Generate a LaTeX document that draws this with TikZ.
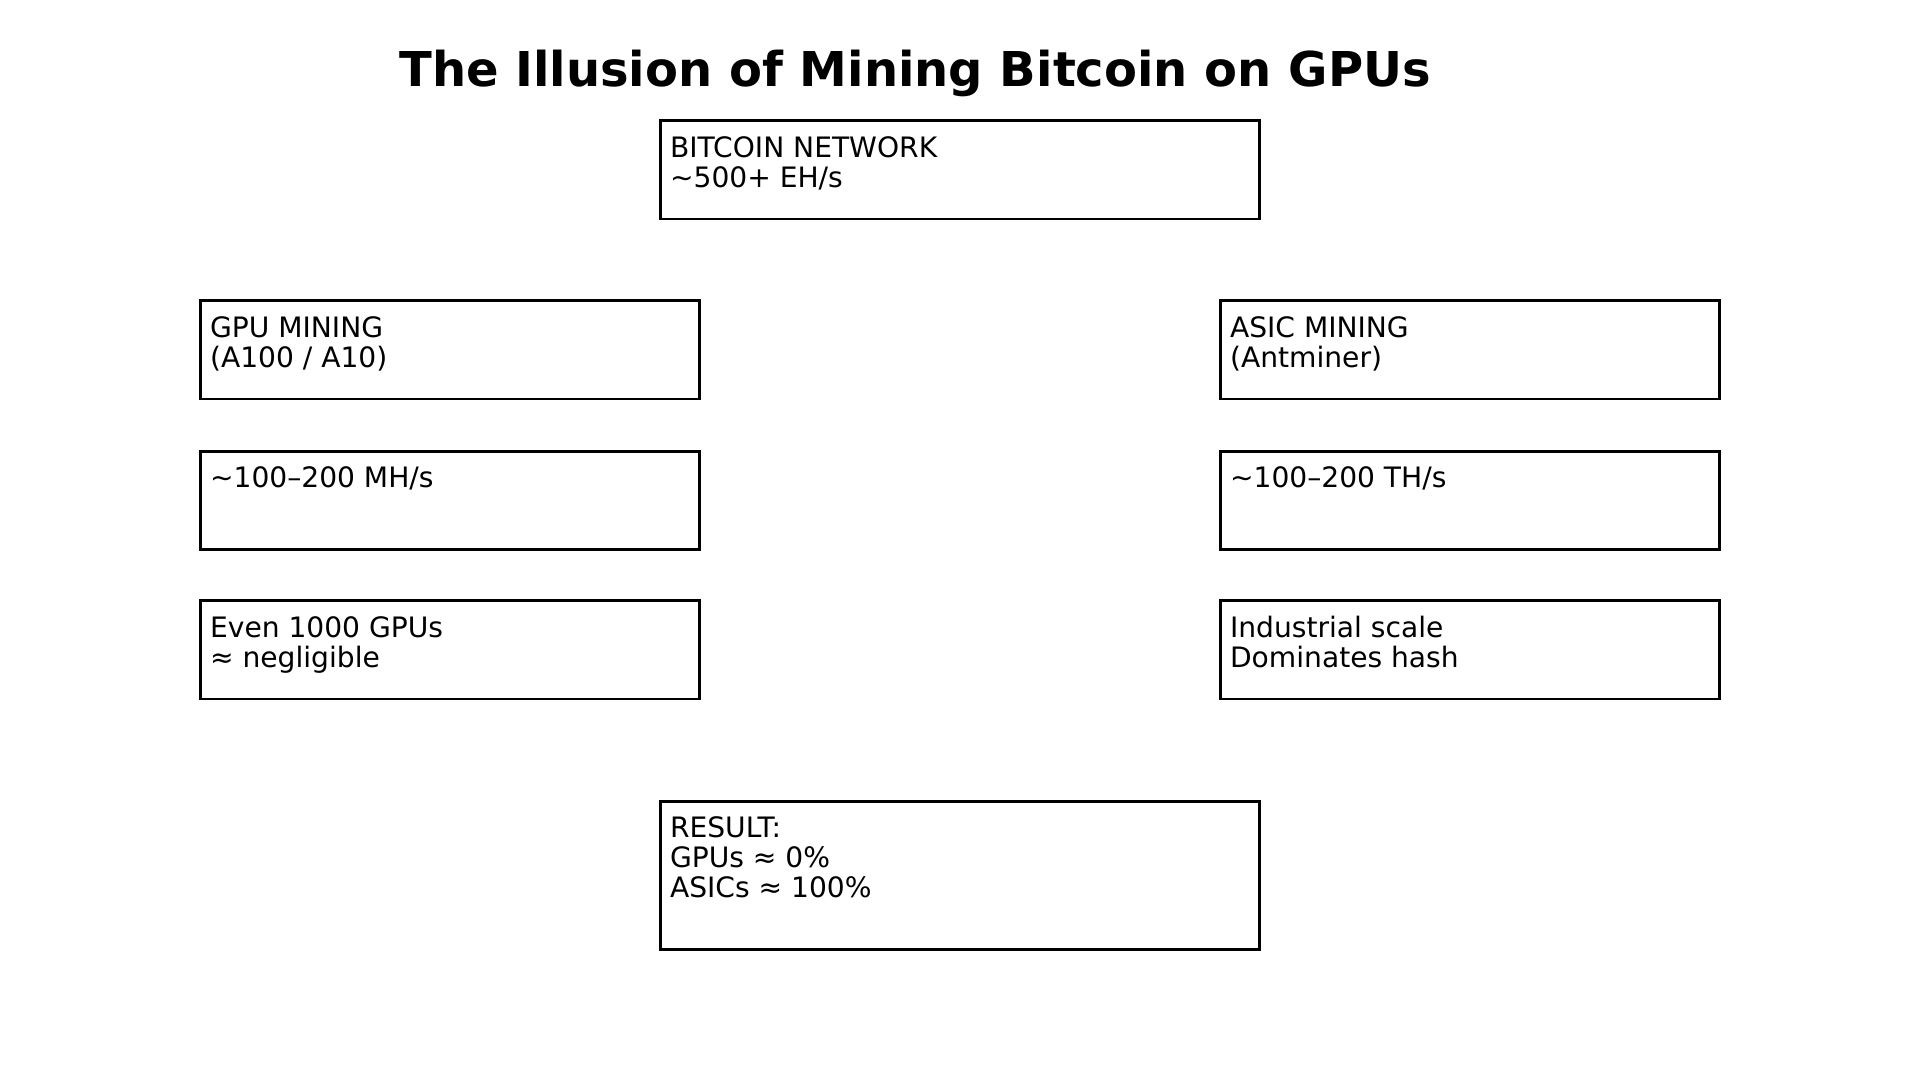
\documentclass[tikz,border=0pt]{standalone}
\usepackage{fontspec}
\setmainfont{DejaVu Sans}
\usepackage{tikz}
\usetikzlibrary{calc}
\usetikzlibrary{positioning}

\begin{document}
\begin{tikzpicture}[
    x=0.01cm, y=0.01cm,
    % Define the style for the boxes
    panel/.style={draw, line width=0.85pt, rectangle, inner sep=0pt},
    % Define the style for the text inside the boxes (top-left aligned)
    paneltext/.style={anchor=north west, inner sep=0pt, align=left,
        font=\fontsize{8pt}{8.6pt}\selectfont,
        execute at begin node=\strut},
    titletext/.style={anchor=base, inner sep=0pt,
        font=\fontsize{13.65pt}{16pt}\selectfont\bfseries}
]

    % --- Configuration ---
    \def\colw{4.98cm} % Width of the side boxes
    \def\boxh{0.98cm} % Height of the boxes

    \useasboundingbox (0,0) rectangle (1920,1080);

    % --- Title ---
    \node[titletext] (title) at (915,993) {The Illusion of Mining Bitcoin on GPUs};

    % --- Network Box ---
    \node[panel, minimum width=5.98cm, minimum height=\boxh] (net) at (960,910) {};
    \node[paneltext] (nettext) at ($(net.north west)+(10,-16)$) {BITCOIN NETWORK\\\textasciitilde500+ EH/s};

    % --- Left and Right Columns ---
    \foreach \y [count=\i] in {730, 579.5, 430} {
        \node[panel, minimum width=\colw, minimum height=\boxh] (gpu\i) at (450,\y) {};
        \node[panel, minimum width=\colw, minimum height=\boxh] (asic\i) at (1470,\y) {};
    }

    \node[paneltext] (gputext1) at ($(gpu1.north west)+(10,-16)$) {GPU MINING\\(A100 / A10)};
    \node[paneltext] (gputext2) at ($(gpu2.north west)+(10,-16)$) {\textasciitilde100–200 MH/s};
    \node[paneltext] (gputext3) at ($(gpu3.north west)+(10,-16)$) {Even 1000 GPUs\\≈ negligible};

    \node[paneltext] (asictext1) at ($(asic1.north west)+(10,-16)$) {ASIC MINING\\(Antminer)};
    \node[paneltext] (asictext2) at ($(asic2.north west)+(10,-16)$) {\textasciitilde100–200 TH/s};
    \node[paneltext] (asictext3) at ($(asic3.north west)+(10,-16)$) {Industrial scale\\Dominates hash};

    % --- Result Box ---
    \node[panel, minimum width=5.98cm, minimum height=1.47cm] (result) at (960,204.5) {};
    \node[paneltext] (resulttext) at ($(result.north west)+(10,-15)$) {RESULT:\\GPUs ≈ 0\%\\ASICs ≈ 100\%};

\end{tikzpicture}
\end{document}
